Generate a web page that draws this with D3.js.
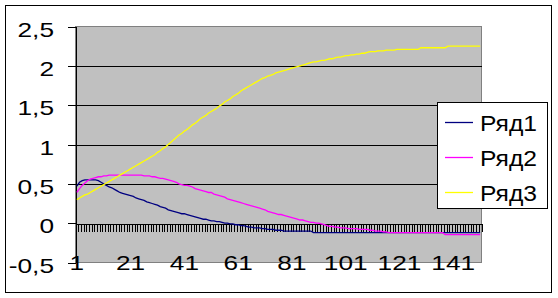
<!DOCTYPE html>
<html><head><meta charset="utf-8">
<script src="https://cdn.jsdelivr.net/npm/d3@7"></script>
<style>
body{margin:0;background:#fff}
svg{display:block}
text{font-family:"Liberation Sans",Arial,sans-serif;fill:#000}
</style>
</head><body><svg id="c" width="558" height="298"></svg>
<script>
const categories = d3.range(1, 152);
const xTickLabels = ["1","21","41","61","81","101","121","141"];
const yTickValues = [-0.5, 0, 0.5, 1, 1.5, 2, 2.5];
const yTickLabels = ["-0,5","0","0,5","1","1,5","2","2,5"];
const seriesNames = ["Ряд1","Ряд2","Ряд3"];
const seriesColors = ["#000080","#FF00FF","#FFFF00"];

const ryad1 = [
 0.47,0.52,0.54,0.55,0.55,0.55,0.55,0.55,0.54,0.52,
 0.50,0.48,0.46,0.45,0.43,0.41,0.39,0.38,0.37,0.36,
 0.35,0.34,0.32,0.31,0.30,0.29,0.27,0.26,0.25,0.24,
 0.23,0.21,0.20,0.19,0.17,0.16,0.15,0.14,0.13,0.12,
 0.12,0.11,0.10,0.09,0.08,0.07,0.06,0.05,0.05,0.04,
 0.03,0.03,0.02,0.02,0.01,0.00,0.00,-0.01,-0.01,-0.02,
 -0.02,-0.03,-0.03,-0.04,-0.05,-0.05,-0.06,-0.06,-0.06,-0.07,
 -0.07,-0.08,-0.08,-0.08,-0.09,-0.09,-0.09,-0.10,-0.10,-0.10,
 -0.10,-0.10,-0.10,-0.10,-0.10,-0.10,-0.10,-0.10,-0.12,-0.12,
 -0.12,-0.12,-0.12,-0.12,-0.12,-0.12,-0.12,-0.12,-0.12,-0.12,
 -0.12,-0.12,-0.12,-0.12,-0.12,-0.12,-0.12,-0.12,-0.12,-0.12,
 -0.12,-0.12,-0.12,-0.12,-0.12,-0.12,-0.12,-0.12,-0.12,-0.12,
 -0.12,-0.12,-0.12,-0.12,-0.12,-0.12,-0.12,-0.12,-0.12,-0.12,
 -0.12,-0.12,-0.12,-0.12,-0.12,-0.12,-0.12,-0.12,-0.12,-0.12,
 -0.12,-0.12,-0.12,-0.12,-0.12,-0.12,-0.12,-0.12,-0.12,-0.12,
 -0.12
];
const ryad2 = [
 0.39,0.44,0.48,0.51,0.54,0.56,0.57,0.58,0.59,0.59,
 0.60,0.60,0.61,0.61,0.61,0.61,0.61,0.61,0.61,0.61,
 0.61,0.61,0.61,0.61,0.61,0.60,0.60,0.60,0.59,0.59,
 0.58,0.57,0.57,0.56,0.55,0.54,0.53,0.52,0.50,0.49,
 0.48,0.48,0.47,0.46,0.44,0.43,0.42,0.41,0.40,0.39,
 0.39,0.37,0.36,0.35,0.34,0.33,0.31,0.30,0.29,0.28,
 0.27,0.26,0.25,0.24,0.23,0.22,0.21,0.20,0.19,0.18,
 0.17,0.15,0.14,0.13,0.12,0.11,0.11,0.10,0.09,0.08,
 0.07,0.06,0.05,0.04,0.04,0.03,0.02,0.01,0.01,0.00,
 0.00,-0.01,-0.02,-0.03,-0.04,-0.04,-0.05,-0.05,-0.06,-0.06,
 -0.06,-0.07,-0.07,-0.07,-0.07,-0.08,-0.08,-0.08,-0.08,-0.09,
 -0.09,-0.10,-0.10,-0.10,-0.11,-0.11,-0.12,-0.12,-0.12,-0.12,
 -0.12,-0.12,-0.12,-0.12,-0.12,-0.12,-0.12,-0.12,-0.12,-0.12,
 -0.12,-0.12,-0.12,-0.12,-0.12,-0.12,-0.12,-0.145,-0.145,-0.145,
 -0.145,-0.145,-0.145,-0.145,-0.145,-0.145,-0.145,-0.145,-0.145,-0.145,
 -0.145
];
const ryad3 = [
 0.30,0.32,0.34,0.36,0.37,0.39,0.41,0.43,0.45,0.47,
 0.49,0.51,0.53,0.55,0.57,0.59,0.61,0.63,0.65,0.67,
 0.69,0.71,0.73,0.75,0.77,0.79,0.81,0.83,0.85,0.87,
 0.90,0.92,0.95,0.97,1.00,1.03,1.06,1.09,1.12,1.14,
 1.17,1.19,1.22,1.25,1.27,1.30,1.33,1.35,1.37,1.40,
 1.42,1.44,1.46,1.49,1.51,1.54,1.56,1.58,1.61,1.63,
 1.65,1.68,1.70,1.72,1.74,1.76,1.78,1.80,1.82,1.84,
 1.85,1.87,1.88,1.89,1.91,1.92,1.93,1.94,1.95,1.96,
 1.97,1.98,1.99,2.00,2.01,2.02,2.03,2.04,2.05,2.05,
 2.06,2.07,2.07,2.08,2.09,2.09,2.10,2.11,2.11,2.12,
 2.13,2.13,2.14,2.14,2.15,2.15,2.16,2.16,2.17,2.18,
 2.18,2.18,2.19,2.19,2.19,2.20,2.20,2.20,2.20,2.21,
 2.21,2.21,2.21,2.21,2.21,2.21,2.21,2.21,2.23,2.23,
 2.23,2.23,2.23,2.23,2.23,2.23,2.23,2.23,2.25,2.25,
 2.25,2.25,2.25,2.25,2.25,2.25,2.25,2.25,2.25,2.25,
 2.25
];
const series = [ryad1, ryad2, ryad3];

const svg = d3.select("#c");
const L = 75.5, R = 481.5, T = 26.5, B = 262.5;

const x = d3.scaleBand().domain(categories).range([L, R]).padding(0);
const xb = d3.scaleLinear().domain([0, categories.length]).range([L, R]);
const y = d3.scaleLinear().domain([-0.5, 2.5]).range([B, T]);
const bw = x.bandwidth();

// outer frame
svg.append("rect").attr("x", 5.5).attr("y", 5.5).attr("width", 546).attr("height", 287)
  .attr("fill", "#fff").attr("stroke", "#000").attr("stroke-width", 1);

// plot area
svg.append("rect").attr("x", L).attr("y", T).attr("width", R - L).attr("height", B - T)
  .attr("fill", "#C0C0C0").attr("stroke", "#808080").attr("stroke-width", 1)
  .attr("shape-rendering", "crispEdges");

// gridlines
svg.append("g").selectAll("line")
  .data(yTickValues.filter(v => v > -0.5 && v < 2.5 && v !== 0))
  .join("line")
  .attr("x1", L).attr("x2", R)
  .attr("y1", d => Math.round(y(d)) + 0.5).attr("y2", d => Math.round(y(d)) + 0.5)
  .attr("stroke", "#000").attr("shape-rendering", "crispEdges");

// y axis
const yAxis = svg.append("g").attr("transform", `translate(${L},0)`)
  .call(d3.axisLeft(y).tickValues(yTickValues).tickSize(8).tickSizeOuter(0).tickFormat(""));
yAxis.selectAll("path,line").attr("stroke", "#000").attr("shape-rendering", "crispEdges");

// y labels
svg.append("g").selectAll("text").data(yTickValues).join("text")
  .attr("text-anchor", "end")
  .attr("font-size", 21)
  .attr("transform", d => `translate(54,${y(d) + 10}) scale(1.25,1)`)
  .text((d, i) => yTickLabels[i]);

// x axis at zero with category ticks
const xAxis = svg.append("g").attr("transform", `translate(0,${Math.round(y(0)) + 0.5})`)
  .call(d3.axisBottom(xb).tickValues(d3.range(0, categories.length + 1)).tickSize(8).tickSizeOuter(0).tickFormat(""));
xAxis.selectAll("path,line").attr("stroke", "#000").attr("shape-rendering", "crispEdges");

// x labels
svg.append("g").selectAll("text").data(xTickLabels).join("text")
  .attr("text-anchor", "middle")
  .attr("font-size", 21)
  .attr("transform", d => `translate(${x(+d) + bw / 2},270) scale(1.25,1)`)
  .text(d => d);

// series
const line = d3.line().x((d, i) => x(categories[i]) + bw / 2).y(d => y(d));
svg.append("g").selectAll("path").data(series).join("path")
  .attr("d", d => line(d))
  .attr("fill", "none")
  .attr("stroke", (d, i) => seriesColors[i])
  .attr("stroke-width", 1.3);

// legend
const lg = svg.append("g");
lg.append("rect").attr("x", 437.5).attr("y", 102.5).attr("width", 110).attr("height", 106)
  .attr("fill", "#fff").attr("stroke", "#000").attr("shape-rendering", "crispEdges");
const items = lg.selectAll("g.item").data(seriesNames).join("g").attr("class", "item")
  .attr("transform", (d, i) => `translate(0,${122.5 + i * 35})`);
items.append("line").attr("x1", 445).attr("x2", 473).attr("y1", 0).attr("y2", 0)
  .attr("stroke", (d, i) => seriesColors[i]).attr("stroke-width", 1.3);
items.append("text").attr("font-size", 22)
  .attr("transform", "translate(480,8) scale(1.12,1)")
  .text(d => d);
</script>
</body></html>
